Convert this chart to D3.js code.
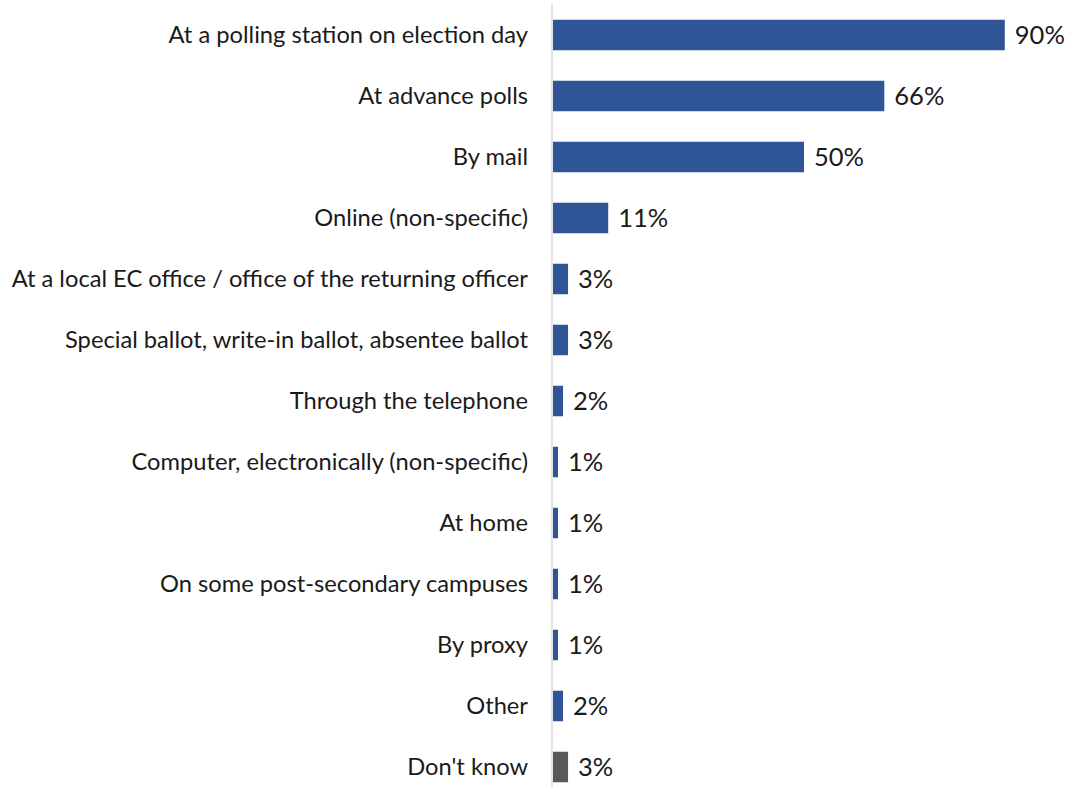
<!DOCTYPE html>
<html>
<head>
<meta charset="utf-8">
<script src="https://cdn.jsdelivr.net/npm/d3@7"></script>
<style>
  html, body { margin: 0; padding: 0; background: #fff; }
  svg { display: block; }
  .cat { font-family: Lato, "Open Sans", sans-serif; font-size: 23.7px; fill: #1a1a1a; }
  .val { font-family: Lato, "Open Sans", sans-serif; font-size: 25.5px; fill: #1a1a1a; }
</style>
</head>
<body>
<svg id="chart" width="1073" height="787"></svg>
<script>
const categories = [
  "At a polling station on election day",
  "At advance polls",
  "By mail",
  "Online (non-specific)",
  "At a local EC office / office of the returning officer",
  "Special ballot, write-in ballot, absentee ballot",
  "Through the telephone",
  "Computer, electronically (non-specific)",
  "At home",
  "On some post-secondary campuses",
  "By proxy",
  "Other",
  "Don't know"
];
const values = [90, 66, 50, 11, 3, 3, 2, 1, 1, 1, 1, 2, 3];
const barColors = ["#2F5597", "#2F5597", "#2F5597", "#2F5597", "#2F5597", "#2F5597",
  "#2F5597", "#2F5597", "#2F5597", "#2F5597", "#2F5597", "#2F5597", "#595959"];

const width = 1073, height = 787;
const margin = { top: 4, left: 553 };

const svg = d3.select("#chart");

const x = d3.scaleLinear().domain([0, 100]).range([margin.left, margin.left + 502]);
const y = d3.scaleBand().domain(categories).range([4.5, 797.5]).paddingInner(0.5).paddingOuter(0.25);

// vertical baseline
svg.append("line")
  .attr("x1", x(0) - 1).attr("x2", x(0) - 1)
  .attr("y1", margin.top).attr("y2", height)
  .attr("stroke", "#e3e3e3").attr("stroke-width", 2);

svg.selectAll("rect.bar")
  .data(categories)
  .join("rect")
  .attr("class", "bar")
  .attr("x", x(0))
  .attr("y", d => y(d))
  .attr("width", (d, i) => x(values[i]) - x(0))
  .attr("height", y.bandwidth())
  .attr("fill", (d, i) => barColors[i]);

// category labels
svg.selectAll("text.cat")
  .data(categories)
  .join("text")
  .attr("class", "cat")
  .attr("x", x(0) - 25)
  .attr("y", d => y(d) + y.bandwidth() / 2)
  .attr("dy", "0.35em")
  .attr("text-anchor", "end")
  .text(d => d);

// value labels
svg.selectAll("text.val")
  .data(categories)
  .join("text")
  .attr("class", "val")
  .attr("x", (d, i) => x(values[i]) + 10)
  .attr("y", d => y(d) + y.bandwidth() / 2)
  .attr("dy", "0.36em")
  .text((d, i) => values[i] + "%");
</script>
</body>
</html>
